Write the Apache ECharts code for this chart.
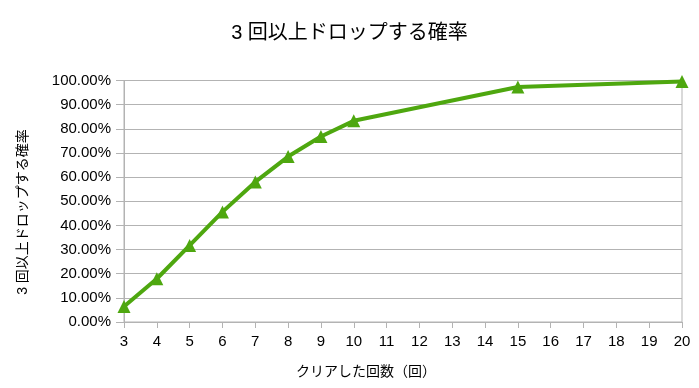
<!DOCTYPE html>
<html>
<head>
<meta charset="utf-8">
<script src="https://cdn.jsdelivr.net/npm/echarts@6/dist/echarts.min.js"></script>
<style>html,body{margin:0;padding:0;background:#fff;}#c{width:699px;height:388px;}</style>
</head>
<body>
<div id="c"></div>
<script>
var titleText = '3 回以上ドロップする確率';
var yAxisLabel = '3 回以上ドロップする確率';
var xAxisLabel = 'クリアした回数（回）';
var clears = [3, 4, 5, 6, 7, 8, 9, 10, 15, 20];
var probability = [0.064, 0.179, 0.317, 0.456, 0.580, 0.685, 0.768, 0.833, 0.973, 0.996];

var FONT = "'Liberation Sans', 'Noto Sans CJK JP', sans-serif";
var TICKFONT = "'Liberation Sans', sans-serif";
var chart = echarts.init(document.getElementById('c'));
chart.setOption({
  animation: false,
  backgroundColor: '#fff',
  title: {
    text: titleText, left: 'center', top: 18,
    textStyle: {fontFamily: FONT, fontSize: 20, fontWeight: 'normal', color: '#000'}
  },
  graphic: [
    {type: 'text', x: 23, y: 212, rotation: Math.PI / 2,
     style: {text: yAxisLabel, fontFamily: FONT, fontSize: 14, fill: '#000', align: 'center', verticalAlign: 'middle'}},
    {type: 'text', x: 366, y: 372,
     style: {text: xAxisLabel, fontFamily: FONT, fontSize: 14, fill: '#000', align: 'center', verticalAlign: 'middle'}}
  ],
  grid: {left: 124, right: 17, top: 80.5, bottom: 66, show: true, borderColor: '#b3b3b3', borderWidth: 1},
  xAxis: {
    type: 'value', min: 3, max: 20, interval: 1,
    axisLine: {show: true, lineStyle: {color: '#b3b3b3'}},
    axisTick: {show: true, length: 6, lineStyle: {color: '#b3b3b3'}},
    splitLine: {show: false},
    axisLabel: {margin: 12, fontFamily: TICKFONT, fontSize: 15, color: '#000'}
  },
  yAxis: {
    type: 'value', min: 0, max: 1, interval: 0.1,
    axisLine: {show: true, lineStyle: {color: '#b3b3b3'}},
    axisTick: {show: true, length: 8, lineStyle: {color: '#b3b3b3'}},
    splitLine: {show: true, lineStyle: {color: '#b3b3b3'}},
    axisLabel: {margin: 13, fontFamily: TICKFONT, fontSize: 15, color: '#000',
      formatter: function (v) { return (v * 100).toFixed(2) + '%'; }}
  },
  series: [{
    type: 'line',
    data: clears.map(function (c, i) { return [c, probability[i]]; }),
    symbol: 'triangle', symbolSize: 13,
    itemStyle: {color: '#4ea70f'},
    lineStyle: {color: '#4ea70f', width: 4},
    clip: false
  }]
});
</script>
</body>
</html>
